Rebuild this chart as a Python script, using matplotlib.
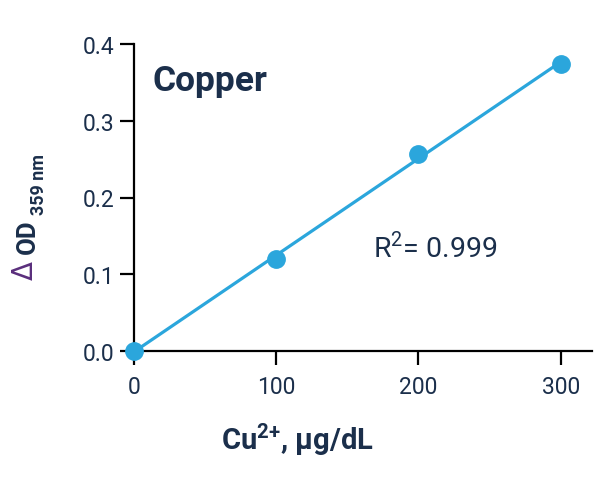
import numpy as np
import matplotlib
matplotlib.use("Agg")
import matplotlib.pyplot as plt

conc = [0, 100, 200, 300]
delta_od = [0.0, 0.12, 0.257, 0.374]
x_ticks = [0, 100, 200, 300]
y_ticks = [0.0, 0.1, 0.2, 0.3, 0.4]
r2_text = "0.999"

navy = "#1b2f4b"
blue = "#2ba6dc"
purple = "#5a2e7c"

plt.rcParams['font.family'] = ['Roboto', 'DejaVu Sans']
plt.rcParams['mathtext.fontset'] = 'custom'
plt.rcParams['mathtext.rm'] = 'Roboto'
plt.rcParams['mathtext.bf'] = 'Roboto:bold'

W, H = 600, 481
fig = plt.figure(figsize=(6.0, 4.81), dpi=100)
ax = fig.add_axes([134 / W, 1 - 352 / H, 458 / W, 307 / H])

slope, intercept = np.polyfit(conc, delta_od, 1)
xf = np.array([conc[0], conc[-1]])
ax.plot(xf, slope * xf + intercept, color=blue, lw=2.3, clip_on=False, zorder=2)
ax.plot(conc, delta_od, 'o', color=blue, ms=12.5, clip_on=False, zorder=3)

ax.set_xlim(0, 322)
ax.set_ylim(0, 0.4)
ax.set_xticks(x_ticks)
ax.set_yticks(y_ticks)
ax.set_yticklabels([f"{v:.1f}" for v in y_ticks])
for s in ['top', 'right']:
    ax.spines[s].set_visible(False)
for s in ['left', 'bottom']:
    ax.spines[s].set_linewidth(1.6)
    ax.spines[s].set_color('black')
ax.tick_params(axis='both', width=1.6, length=10, labelsize=16.5, labelcolor=navy, color='black')
ax.tick_params(axis='x', pad=7)
ax.tick_params(axis='y', pad=4)

ax.text(0.04, 0.88, "Copper", transform=ax.transAxes, fontsize=25.5, fontweight='bold',
        color=navy, ha='left', va='center')
ax.text(168, 0.135, r"R$^{2}$= " + r2_text, fontsize=20.5, color=navy, ha='left', va='center')

fig.text(297 / W, 1 - 440 / H, r"Cu$^{\mathbf{2{+}}}$, µg/dL", fontsize=21, fontweight='bold',
         color=navy, ha='center', va='center')

# y label: Delta (purple), OD (navy bold), subscript
fig.text(25 / W, 1 - 271 / H, "Δ", fontsize=20, color=purple, rotation=90,
         ha='center', va='center', family=['DejaVu Sans'])
fig.text(28 / W, 1 - 237 / H, "OD", fontsize=18.5, fontweight='bold', color=navy, rotation=90,
         ha='center', va='center')
fig.text(39 / W, 1 - 185 / H, "359 nm", fontsize=13, fontweight='bold', color=navy, rotation=90,
         ha='center', va='center')

fig.savefig("out.png", dpi=100, facecolor='white')
